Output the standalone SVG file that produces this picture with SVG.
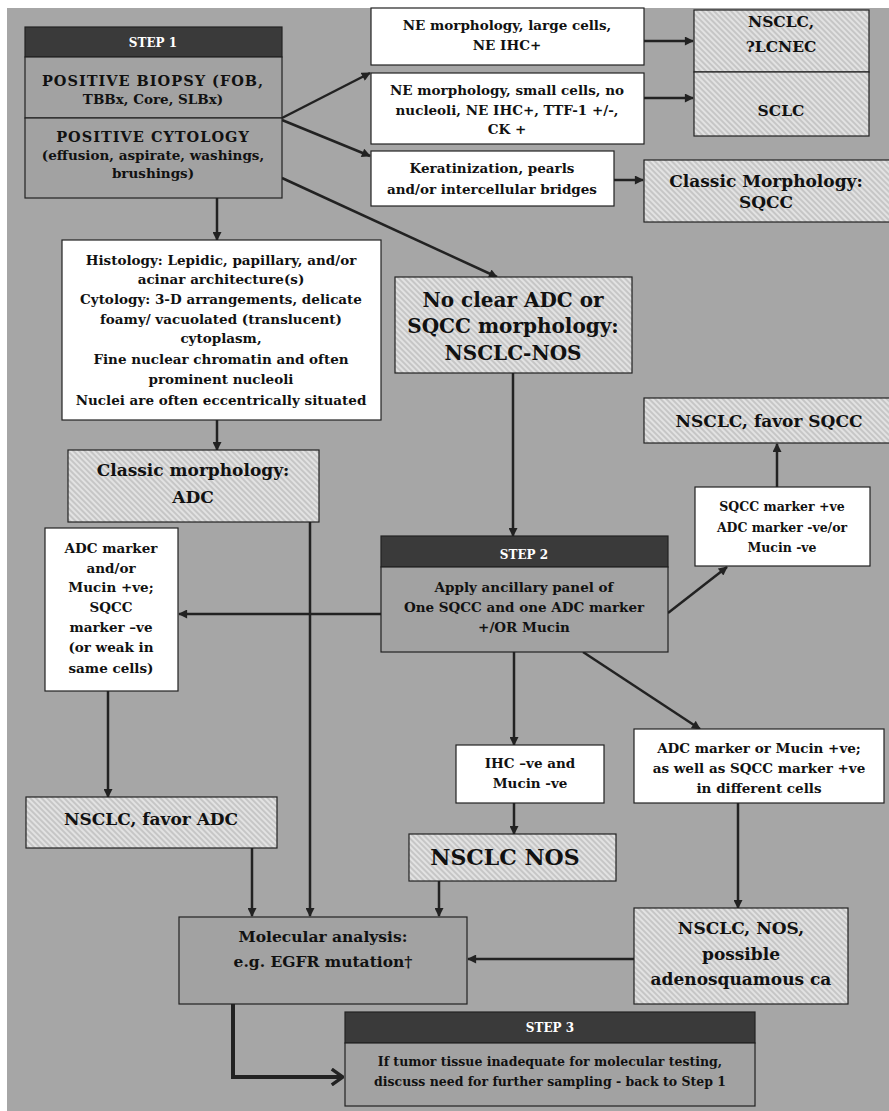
<svg xmlns="http://www.w3.org/2000/svg" width="889" height="1111" viewBox="0 0 889 1111">
<defs>
<pattern id="hatch" patternUnits="userSpaceOnUse" width="4" height="4" patternTransform="rotate(-45)">
<rect width="4" height="4" fill="#e2e2e2"/>
<line x1="1" y1="0" x2="1" y2="4" stroke="#b4b4b4" stroke-width="1.2"/>
</pattern>
<marker id="ah" viewBox="0 0 10 10" refX="9" refY="5" markerWidth="10" markerHeight="9" markerUnits="userSpaceOnUse" orient="auto">
<path d="M0,0 L10,5 L0,10 z" fill="#222"/>
</marker>
<marker id="chev" viewBox="0 0 12 16" refX="11" refY="8" markerWidth="14" markerHeight="18" markerUnits="userSpaceOnUse" orient="auto">
<path d="M1,1 L11,8 L1,15" fill="none" stroke="#222" stroke-width="3"/>
</marker>
<style>
text{font-family:"DejaVu Serif","Liberation Serif",serif;font-weight:bold;fill:#111;text-anchor:middle}
.w{fill:#fff;stroke:#222;stroke-width:1.2}
.h{fill:url(#hatch);stroke:#222;stroke-width:1.2}
.g{fill:#a2a2a2;stroke:#222;stroke-width:1.2}
.d{fill:#3a3a3a;stroke:#222;stroke-width:1.2}
.hd{fill:#fff;font-size:12px}
.s14{font-size:12.5px}
.s15{font-size:13.5px}
.cap{font-size:14.5px;letter-spacing:1px}
.s17{font-size:15.5px}
.s19{font-size:17px}
.s22{font-size:20px}
.s23{font-size:22px}
.c{fill:none;stroke:#222;stroke-width:2.5}
</style>
</defs>
<rect x="0" y="0" width="889" height="1111" fill="#fff"/>
<rect x="7" y="8" width="882" height="1103" fill="#a6a6a6"/>

<g id="connectors">
<line class="c" x1="282" y1="118" x2="370" y2="73" marker-end="url(#ah)"/>
<line class="c" x1="282" y1="120" x2="370" y2="156" marker-end="url(#ah)"/>
<line class="c" x1="282" y1="178" x2="497" y2="277" marker-end="url(#ah)"/>
<line class="c" x1="217" y1="198" x2="217" y2="240" marker-end="url(#ah)"/>
<line class="c" x1="644" y1="41" x2="693" y2="41" marker-end="url(#ah)"/>
<line class="c" x1="644" y1="98" x2="693" y2="98" marker-end="url(#ah)"/>
<line class="c" x1="614" y1="180" x2="643" y2="180" marker-end="url(#ah)"/>
<line class="c" x1="217" y1="420" x2="217" y2="450" marker-end="url(#ah)"/>
<line class="c" x1="513" y1="373" x2="513" y2="536" marker-end="url(#ah)"/>
<line class="c" x1="777" y1="487" x2="777" y2="444" marker-end="url(#ah)"/>
<line class="c" x1="668" y1="613" x2="727" y2="567" marker-end="url(#ah)"/>
<line class="c" x1="381" y1="614" x2="179" y2="614" marker-end="url(#ah)"/>
<line class="c" x1="310" y1="522" x2="310" y2="916" marker-end="url(#ah)"/>
<line class="c" x1="108" y1="691" x2="108" y2="797" marker-end="url(#ah)"/>
<line class="c" x1="514" y1="652" x2="514" y2="745" marker-end="url(#ah)"/>
<line class="c" x1="583" y1="652" x2="700" y2="729" marker-end="url(#ah)"/>
<line class="c" x1="514" y1="803" x2="514" y2="834" marker-end="url(#ah)"/>
<line class="c" x1="738" y1="803" x2="738" y2="908" marker-end="url(#ah)"/>
<line class="c" x1="252" y1="848" x2="252" y2="916" marker-end="url(#ah)"/>
<line class="c" x1="439" y1="881" x2="439" y2="916" marker-end="url(#ah)"/>
<line class="c" x1="634" y1="959" x2="468" y2="959" marker-end="url(#ah)"/>
<path d="M233,1004 V1077 H343" fill="none" stroke="#222" stroke-width="4" marker-end="url(#chev)"/>
</g>

<g id="step1">
<rect class="d" x="25" y="27" width="257" height="30"/>
<rect class="g" x="25" y="57" width="257" height="61"/>
<rect class="g" x="25" y="118" width="257" height="80"/>
<text class="hd" x="153" y="47">STEP 1</text>
<text class="cap" x="153" y="86">POSITIVE BIOPSY (FOB,</text>
<text class="s15" x="153" y="104">TBBx, Core, SLBx)</text>
<text class="cap" x="153" y="142">POSITIVE CYTOLOGY</text>
<text class="s15" x="153" y="160">(effusion, aspirate, washings,</text>
<text class="s15" x="153" y="178">brushings)</text>
</g>

<g id="ne-large">
<rect class="w" x="371" y="8" width="273" height="57"/>
<text class="s15" x="507" y="30">NE morphology, large cells,</text>
<text class="s15" x="507" y="50">NE IHC+</text>
</g>

<g id="ne-small">
<rect class="w" x="371" y="73" width="273" height="71"/>
<text class="s15" x="507" y="95">NE morphology, small cells, no</text>
<text class="s15" x="507" y="115">nucleoli, NE IHC+, TTF-1 +/-,</text>
<text class="s15" x="507" y="134">CK +</text>
</g>

<g id="kerat">
<rect class="w" x="371" y="151" width="243" height="55"/>
<text class="s15" x="492" y="173">Keratinization, pearls</text>
<text class="s15" x="492" y="194">and/or intercellular bridges</text>
</g>

<g id="lcnec">
<rect class="h" x="694" y="10" width="175" height="62"/>
<text class="s17" x="781" y="27">NSCLC,</text>
<text class="s17" x="781" y="52">?LCNEC</text>
</g>

<g id="sclc">
<rect class="h" x="694" y="72" width="175" height="64"/>
<text class="s17" x="781" y="116">SCLC</text>
</g>

<g id="classic-sqcc">
<rect class="h" x="644" y="160" width="250" height="62"/>
<text class="s19" x="766" y="187">Classic Morphology:</text>
<text class="s19" x="766" y="208">SQCC</text>
</g>

<g id="histology">
<rect class="w" x="62" y="240" width="319" height="180"/>
<text class="s15" x="221" y="265">Histology: Lepidic, papillary, and/or</text>
<text class="s15" x="221" y="284">acinar architecture(s)</text>
<text class="s15" x="221" y="304">Cytology: 3-D arrangements, delicate</text>
<text class="s15" x="221" y="324">foamy/ vacuolated (translucent)</text>
<text class="s15" x="221" y="343">cytoplasm,</text>
<text class="s15" x="221" y="364">Fine nuclear chromatin and often</text>
<text class="s15" x="221" y="384">prominent nucleoli</text>
<text class="s15" x="221" y="405">Nuclei are often eccentrically situated</text>
</g>

<g id="nsclc-nos-top">
<rect class="h" x="395" y="277" width="237" height="96"/>
<text class="s22" x="513" y="307">No clear ADC or</text>
<text class="s22" x="513" y="333">SQCC morphology:</text>
<text class="s22" x="513" y="360">NSCLC-NOS</text>
</g>

<g id="classic-adc">
<rect class="h" x="68" y="450" width="251" height="72"/>
<text class="s19" x="193" y="476">Classic morphology:</text>
<text class="s19" x="193" y="503">ADC</text>
</g>

<g id="favor-sqcc">
<rect class="h" x="644" y="398" width="250" height="45"/>
<text class="s19" x="769" y="427">NSCLC, favor SQCC</text>
</g>

<g id="sqcc-marker">
<rect class="w" x="695" y="487" width="175" height="79"/>
<text class="s14" x="782" y="511">SQCC marker +ve</text>
<text class="s14" x="782" y="532">ADC marker -ve/or</text>
<text class="s14" x="782" y="552">Mucin -ve</text>
</g>

<g id="step2">
<rect class="d" x="381" y="536" width="287" height="31"/>
<rect class="g" x="381" y="567" width="287" height="85"/>
<text class="hd" x="524" y="559">STEP 2</text>
<text class="s15" x="524" y="592">Apply ancillary panel of</text>
<text class="s15" x="524" y="612">One SQCC and one ADC marker</text>
<text class="s15" x="524" y="632">+/OR Mucin</text>
</g>

<g id="adc-marker">
<rect class="w" x="45" y="528" width="133" height="163"/>
<text class="s15" x="111" y="553">ADC marker</text>
<text class="s15" x="111" y="573">and/or</text>
<text class="s15" x="111" y="592">Mucin +ve;</text>
<text class="s15" x="111" y="612">SQCC</text>
<text class="s15" x="111" y="632">marker –ve</text>
<text class="s15" x="111" y="652">(or weak in</text>
<text class="s15" x="111" y="673">same cells)</text>
</g>

<g id="ihc-neg">
<rect class="w" x="456" y="745" width="148" height="58"/>
<text class="s15" x="530" y="768">IHC –ve and</text>
<text class="s15" x="530" y="788">Mucin -ve</text>
</g>

<g id="adc-sqcc-pos">
<rect class="w" x="634" y="729" width="250" height="74"/>
<text class="s15" x="759" y="753">ADC marker or Mucin +ve;</text>
<text class="s15" x="759" y="773">as well as SQCC marker +ve</text>
<text class="s15" x="759" y="793">in different cells</text>
</g>

<g id="favor-adc">
<rect class="h" x="26" y="797" width="251" height="51"/>
<text class="s19" x="151" y="825">NSCLC, favor ADC</text>
</g>

<g id="nsclc-nos">
<rect class="h" x="409" y="834" width="207" height="47"/>
<text class="s23" x="505" y="865">NSCLC NOS</text>
</g>

<g id="adenosquamous">
<rect class="h" x="634" y="908" width="214" height="96"/>
<text class="s19" x="741" y="934">NSCLC, NOS,</text>
<text class="s19" x="741" y="960">possible</text>
<text class="s19" x="741" y="985">adenosquamous ca</text>
</g>

<g id="molecular">
<rect class="g" x="179" y="917" width="288" height="87"/>
<text class="s17" x="323" y="942">Molecular analysis:</text>
<text class="s17" x="323" y="967">e.g. EGFR mutation†</text>
</g>

<g id="step3">
<rect class="d" x="345" y="1012" width="410" height="31"/>
<rect class="g" x="345" y="1043" width="410" height="63"/>
<text class="hd" x="550" y="1032">STEP 3</text>
<text class="s14" x="550" y="1066">If tumor tissue inadequate for molecular testing,</text>
<text class="s14" x="550" y="1086">discuss need for further sampling -  back to Step 1</text>
</g>
</svg>
